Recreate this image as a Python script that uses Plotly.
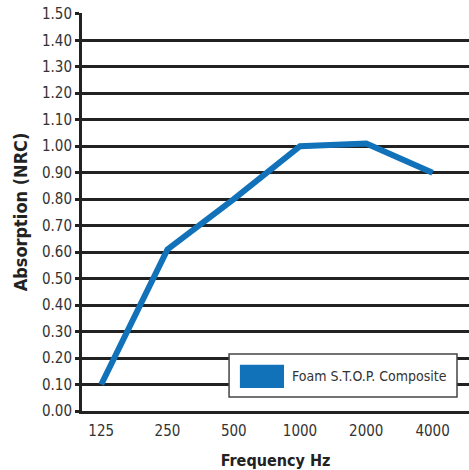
import plotly.graph_objects as go

categories = ["125", "250", "500", "1000", "2000", "4000"]
absorption = [0.10, 0.61, 0.80, 1.00, 1.01, 0.90]
series_name = "Foam S.T.O.P. Composite"
y_ticks = [round(i * 0.1, 2) for i in range(16)]
y_labels = [f"{v:.2f}" for v in y_ticks]

FONT = "DejaVu Sans Condensed, Liberation Sans Narrow, Roboto, Arial, sans-serif"
BLUE = "#1172BA"

fig = go.Figure()
fig.add_trace(go.Scatter(
    x=list(range(len(categories))), y=absorption, mode="lines",
    line=dict(color=BLUE, width=6), name=series_name, showlegend=False,
))

fig.update_layout(
    width=469, height=470,
    margin=dict(l=82, r=0, t=13, b=59, autoexpand=False),
    paper_bgcolor="white", plot_bgcolor="white",
    font=dict(family=FONT, size=15, color="#333333"),
    showlegend=False,
    xaxis=dict(
        tickmode="array", tickvals=list(range(len(categories))), ticktext=categories,
        range=[-0.29, 5.55], showgrid=False, zeroline=False,
        showline=True, linecolor="#222222", linewidth=3,
        ticks="", ticklabelstandoff=4, automargin=False,
        title=dict(text="<b>Frequency Hz</b>", font=dict(size=16, color="#222222"), standoff=16),
    ),
    yaxis=dict(
        tickmode="array", tickvals=y_ticks, ticktext=y_labels,
        range=[0, 1.503], showgrid=True, gridcolor="#222222", gridwidth=2.5,
        zeroline=False, showline=True, linecolor="#222222", linewidth=3,
        ticks="outside", ticklen=4, tickwidth=2.5, tickcolor="#222222", automargin=False,
        ticklabeloverflow="allow",
        title=dict(text="<b>Absorption (NRC)</b>", font=dict(size=18, color="#222222"), standoff=10),
    ),
)

# legend box drawn as shapes (paper coordinates)
fig.add_shape(type="rect", xref="paper", yref="paper", x0=0.380, x1=0.969, y0=0.035, y1=0.143,
              fillcolor="white", line=dict(color="#444444", width=1.5), layer="above")
fig.add_shape(type="rect", xref="paper", yref="paper", x0=0.408, x1=0.522, y0=0.058, y1=0.116,
              fillcolor=BLUE, line=dict(width=0), layer="above")
fig.add_annotation(xref="paper", yref="paper", x=0.537, y=0.087, text=series_name,
                   showarrow=False, xanchor="left", yanchor="middle",
                   font=dict(family=FONT, size=14, color="#333333"))

fig.write_html("out.html", config={"displayModeBar": False},
               post_script="document.body.style.margin='0';")
